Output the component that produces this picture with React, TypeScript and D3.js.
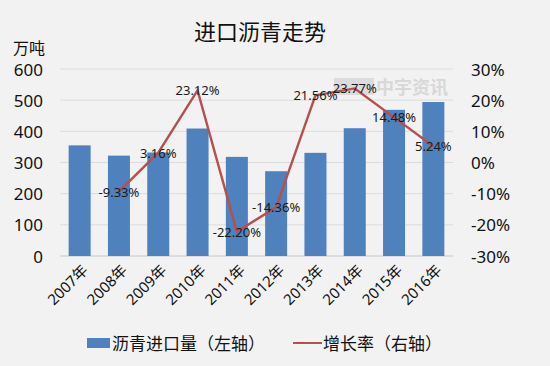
import * as d3 from "d3";
import { useRef, useEffect } from "react";

const years = ["2007年", "2008年", "2009年", "2010年", "2011年", "2012年", "2013年", "2014年", "2015年", "2016年"];
const imports = [355, 322, 332, 409, 318, 272, 331, 410, 469, 494];
const growth = [null, -9.33, 3.16, 23.12, -22.2, -14.36, 21.56, 23.77, 14.48, 5.24];
const leftTicks = [0, 100, 200, 300, 400, 500, 600];
const rightTicks = [-30, -20, -10, 0, 10, 20, 30];

const W = 550;
const H = 366;
const FONT = '"Noto Sans", "Noto Sans CJK SC", sans-serif';
const BAR = "#4f81bd";
const LINE = "#b5504e";

const App = () => {
    const svgRef = useRef<SVGSVGElement>(null);

    useEffect(() => {
        const svg = d3.select(svgRef.current);
        svg.selectAll("*").remove();

        svg.append("rect").attr("width", W).attr("height", H).attr("fill", "#f2f2f2");

        const x = d3.scaleBand().domain(years).range([60, 453]).paddingInner(0.44).paddingOuter(0.22);
        const yL = d3.scaleLinear().domain([0, 600]).range([256, 69]);
        const yR = d3.scaleLinear().domain([-30, 30]).range([256, 69]);

        // title
        svg.append("text")
            .attr("x", 260).attr("y", 31)
            .attr("text-anchor", "middle").attr("dominant-baseline", "central")
            .attr("font-family", FONT).attr("font-size", 22).attr("fill", "#111")
            .text("进口沥青走势");

        svg.append("text")
            .attr("x", 13).attr("y", 48)
            .attr("dominant-baseline", "central")
            .attr("font-family", FONT).attr("font-size", 16).attr("fill", "#111")
            .text("万吨");

        // grid lines
        svg.append("g").selectAll("line")
            .data(leftTicks)
            .enter().append("line")
            .attr("x1", 60).attr("x2", 453)
            .attr("y1", d => yL(d)).attr("y2", d => yL(d))
            .attr("stroke", d => d === 0 ? "#c8c8c8" : "#dcdcdc")
            .attr("stroke-width", 1);

        // left axis labels
        svg.append("g").selectAll("text")
            .data(leftTicks)
            .enter().append("text")
            .attr("x", 43).attr("y", d => yL(d))
            .attr("text-anchor", "end").attr("dominant-baseline", "central")
            .attr("font-family", FONT).attr("font-size", 17).attr("fill", "#111")
            .text(d => d);

        // right axis labels
        svg.append("g").selectAll("text")
            .data(rightTicks)
            .enter().append("text")
            .attr("x", 471).attr("y", d => yR(d))
            .attr("text-anchor", "start").attr("dominant-baseline", "central")
            .attr("font-family", FONT).attr("font-size", 17).attr("fill", "#111")
            .text(d => `${d}%`);

        // bars
        svg.append("g").selectAll("rect")
            .data(imports)
            .enter().append("rect")
            .attr("x", (d, i) => x(years[i]))
            .attr("y", d => yL(d))
            .attr("width", x.bandwidth())
            .attr("height", d => yL(0) - yL(d))
            .attr("fill", BAR);

        // watermark
        svg.append("rect")
            .attr("x", 334).attr("y", 78).attr("width", 40).attr("height", 17)
            .attr("fill", "#d6d6d6").attr("opacity", 0.8);
        svg.append("text")
            .attr("x", 412).attr("y", 87)
            .attr("text-anchor", "middle").attr("dominant-baseline", "central")
            .attr("font-family", FONT).attr("font-size", 18).attr("font-weight", "bold")
            .attr("fill", "#d4d4d4").attr("opacity", 0.85)
            .text("中宇资讯");

        // growth line
        const pts = growth
            .map((g, i) => ({ g, year: years[i] }))
            .filter(p => p.g !== null) as { g: number; year: string }[];
        const cx = (yr: string) => (x(yr) as number) + x.bandwidth() / 2;

        const line = d3.line<{ g: number; year: string }>()
            .x(d => cx(d.year))
            .y(d => yR(d.g));

        svg.append("path")
            .datum(pts)
            .attr("fill", "none")
            .attr("stroke", LINE)
            .attr("stroke-width", 2.4)
            .attr("stroke-linejoin", "miter")
            .attr("d", line);

        // data labels
        svg.append("g").selectAll("text")
            .data(pts)
            .enter().append("text")
            .attr("x", d => cx(d.year))
            .attr("y", d => yR(d.g))
            .attr("text-anchor", "middle").attr("dominant-baseline", "central")
            .attr("font-family", FONT).attr("font-size", 13).attr("fill", "#1a1a1a")
            .text(d => `${d.g.toFixed(2)}%`);

        // x labels
        svg.append("g").selectAll("text")
            .data(years)
            .enter().append("text")
            .attr("transform", d => `translate(${cx(d) + 5},${267}) rotate(-45)`)
            .attr("text-anchor", "end").attr("dominant-baseline", "central")
            .attr("font-family", FONT).attr("font-size", 15).attr("fill", "#111")
            .text(d => d);

        // legend
        svg.append("rect")
            .attr("x", 87).attr("y", 338).attr("width", 23).attr("height", 10)
            .attr("fill", BAR);
        svg.append("text")
            .attr("x", 112).attr("y", 343)
            .attr("dominant-baseline", "central")
            .attr("font-family", FONT).attr("font-size", 17).attr("fill", "#111")
            .text("沥青进口量（左轴）");
        svg.append("line")
            .attr("x1", 293).attr("x2", 322).attr("y1", 343).attr("y2", 343)
            .attr("stroke", LINE).attr("stroke-width", 2);
        svg.append("text")
            .attr("x", 323).attr("y", 343)
            .attr("dominant-baseline", "central")
            .attr("font-family", FONT).attr("font-size", 17).attr("fill", "#111")
            .text("增长率（右轴）");
    }, []);

    return (
        <div style={{ position: "absolute", left: 0, top: 0 }}>
            <svg ref={svgRef} width={W} height={H} style={{ display: "block" }} />
        </div>
    );
};

export default App;
